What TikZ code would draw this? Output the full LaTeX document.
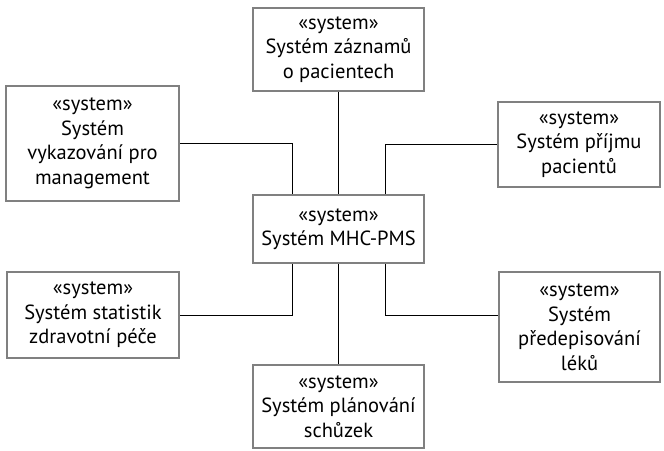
\documentclass[tikz,border=0pt]{standalone}
\usepackage{fontspec}
\setmainfont{PT Sans}
\usepackage{tikz}

\begin{document}
\begin{tikzpicture}[
  x=1pt, y=-1pt,
  sys/.style={draw=black!50, line width=2.2pt, align=center, inner sep=2pt,
    font=\fontsize{20.5}{24.5}\selectfont},
  link/.style={draw, line width=0.9pt}
]
\useasboundingbox (0,0) rectangle (664,450);

\node[sys, minimum width=171pt, minimum height=83pt] (rec) at (338.5,49.5)
  {«system»\\Systém záznamů\\o pacientech};
\node[sys, minimum width=173pt, minimum height=115pt] (mgmt) at (92.5,143.5)
  {«system»\\Systém\\vykazování pro\\management};
\node[sys, minimum width=171pt, minimum height=68pt] (mhc) at (338.5,229)
  {«system»\\Systém MHC-PMS};
\node[sys, minimum width=162pt, minimum height=85pt] (adm) at (579,144.5)
  {«system»\\Systém příjmu\\pacientů};
\node[sys, minimum width=172pt, minimum height=86pt] (stat) at (93,315)
  {«system»\\Systém statistik\\zdravotní péče};
\node[sys, minimum width=161pt, minimum height=110pt] (presc) at (579.5,327)
  {«system»\\Systém\\předepisování\\léků};
\node[sys, minimum width=171pt, minimum height=83pt] (appt) at (338.5,406.5)
  {«system»\\Systém plánování\\schůzek};

\draw[link] (rec) -- (mhc);
\draw[link] (mgmt.east) -| ([xshift=-46.5pt]mhc.north);
\draw[link] (adm.west) -| ([xshift=47pt]mhc.north);
\draw[link] (stat.east) -| ([xshift=-46.5pt]mhc.south);
\draw[link] ([xshift=47pt]mhc.south) |- (presc.west |- stat.east);
\draw[link] (mhc) -- (appt);
\end{tikzpicture}
\end{document}
